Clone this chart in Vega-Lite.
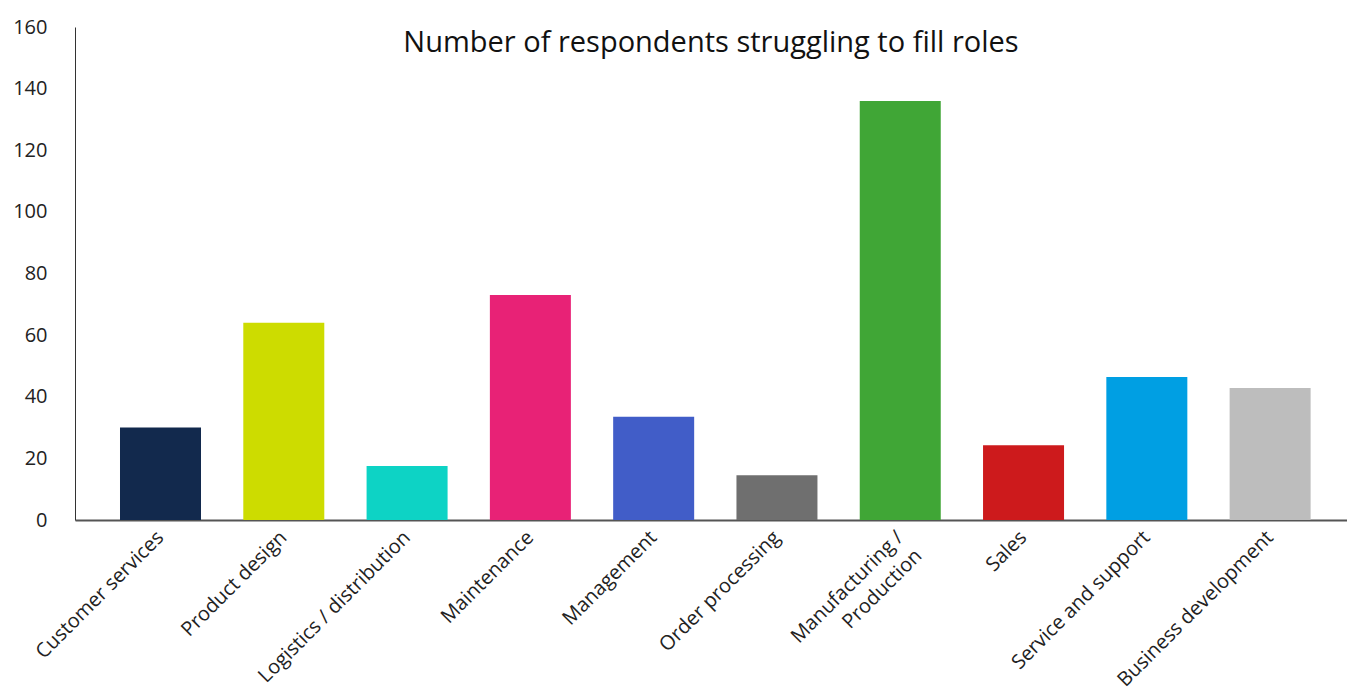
{
  "$schema": "https://vega.github.io/schema/vega-lite/v6.json",
  "width": 1272,
  "height": 493,
  "autosize": {"type": "none"},
  "padding": {"left": 75, "top": 27, "right": 0, "bottom": 167},
  "background": "white",
  "title": {
    "text": "Number of respondents struggling to fill roles",
    "frame": "group",
    "anchor": "middle",
    "baseline": "alphabetic",
    "offset": -26,
    "dy": 38,
    "font": "Open Sans",
    "fontSize": 29,
    "fontWeight": "normal",
    "color": "#111111"
  },
  "data": {
    "values": [
      {"role": "Customer services", "count": 30, "color": "#12294D"},
      {"role": "Product design", "count": 64, "color": "#CDDC00"},
      {"role": "Logistics / distribution", "count": 17.5, "color": "#0DD3C5"},
      {"role": "Maintenance", "count": 73, "color": "#E82276"},
      {"role": "Management", "count": 33.5, "color": "#415DC8"},
      {"role": "Order processing", "count": 14.5, "color": "#6F6F6F"},
      {"role": "Manufacturing /|Production", "count": 136, "color": "#40A636"},
      {"role": "Sales", "count": 24.3, "color": "#CD1A1C"},
      {"role": "Service and support", "count": 46.4, "color": "#009FE3"},
      {"role": "Business development", "count": 42.8, "color": "#BDBDBD"}
    ]
  },
  "mark": {"type": "bar"},
  "encoding": {
    "x": {
      "field": "role",
      "type": "nominal",
      "sort": null,
      "scale": {"paddingInner": 0.343, "paddingOuter": 0.33, "align": 0.553},
      "axis": {
        "title": null,
        "labelAngle": -45,
        "labelAlign": "right",
        "labelBaseline": "middle",
        "labelPadding": 14,
        "labelFont": "Open Sans",
        "labelFontSize": 20,
        "labelColor": "#222222",
        "labelExpr": "split(datum.label, '|')",
        "labelLineHeight": 26,
        "ticks": false,
        "domainColor": "#555555",
        "domainWidth": 2,
        "labelOverlap": false,
        "labelLimit": 400
      }
    },
    "y": {
      "field": "count",
      "type": "quantitative",
      "scale": {"domain": [0, 160], "nice": false},
      "axis": {
        "title": null,
        "values": [0, 20, 40, 60, 80, 100, 120, 140, 160],
        "grid": false,
        "ticks": false,
        "labelPadding": 28,
        "labelFont": "Open Sans",
        "labelFontSize": 20,
        "labelColor": "#222222",
        "domainColor": "#333333",
        "domainWidth": 1
      }
    },
    "color": {"field": "color", "type": "nominal", "scale": null, "legend": null}
  },
  "config": {"view": {"stroke": null}}
}
